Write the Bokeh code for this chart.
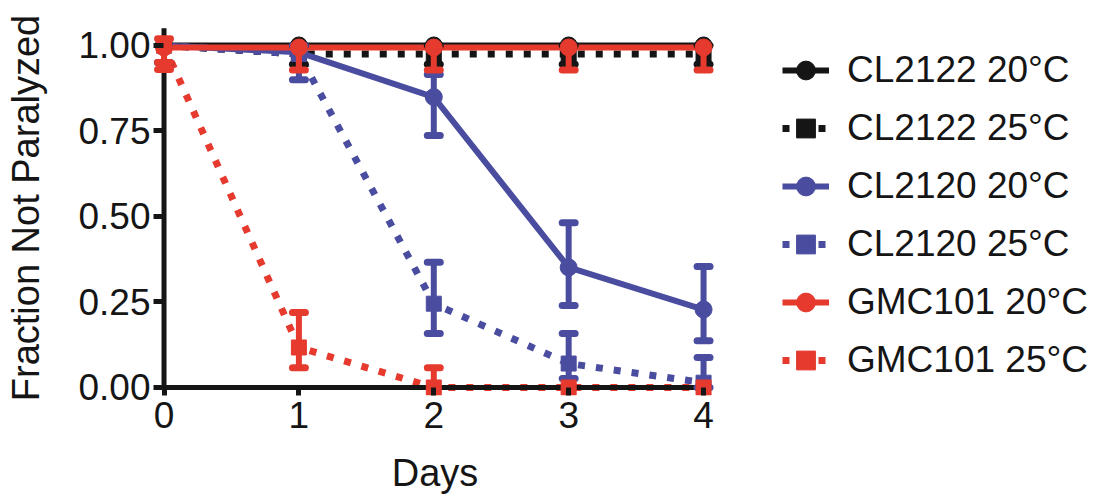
import numpy as np
from bokeh.plotting import figure
from bokeh.models import (ColumnDataSource, FixedTicker, Legend, LegendItem,
                          NumeralTickFormatter)
from bokeh.embed import file_html
from bokeh.resources import INLINE

# ---------------- data ----------------
days = [0, 1, 2, 3, 4]
x_ticks = [0, 1, 2, 3, 4]
y_ticks = [0.0, 0.25, 0.50, 0.75, 1.00]

names = ["CL2122 20°C", "CL2122 25°C", "CL2120 20°C",
         "CL2120 25°C", "GMC101 20°C", "GMC101 25°C"]

cl2122_20 = [1.000, 1.000, 1.000, 1.000, 1.000]
cl2122_20_lo = [1.000, 1.000, 1.000, 1.000, 1.000]
cl2122_20_hi = [1.000, 1.000, 1.000, 1.000, 1.000]

cl2122_25 = [1.000, 0.975, 0.975, 0.975, 0.975]
cl2122_25_lo = [0.950, 0.945, 0.945, 0.945, 0.945]
cl2122_25_hi = [1.000, 1.000, 1.000, 1.000, 1.000]

cl2120_20 = [1.000, 0.980, 0.849, 0.351, 0.228]
cl2120_20_lo = [1.000, 0.980, 0.737, 0.240, 0.137]
cl2120_20_hi = [1.000, 0.980, 0.915, 0.482, 0.354]

cl2120_25 = [1.000, 0.975, 0.245, 0.070, 0.014]
cl2120_25_lo = [1.000, 0.900, 0.158, 0.026, 0.000]
cl2120_25_hi = [1.000, 1.000, 0.366, 0.158, 0.088]

gmc101_20 = [0.994, 0.994, 0.994, 0.994, 0.994]
gmc101_20_lo = [0.950, 0.928, 0.928, 0.928, 0.928]
gmc101_20_hi = [1.020, 0.994, 0.994, 0.994, 0.994]

gmc101_25 = [1.000, 0.117, 0.000, 0.000, 0.000]
gmc101_25_lo = [0.930, 0.058, 0.000, 0.000, 0.000]
gmc101_25_hi = [1.000, 0.219, 0.058, 0.000, 0.000]

# ---------------- style ----------------
BLACK = "#151515"
BLUE = "#4A4D9F"
RED = "#E63A2E"
FONT = "Liberation Sans"

series = [
    (names[0], cl2122_20, cl2122_20_lo, cl2122_20_hi, BLACK, "solid", "circle"),
    (names[1], cl2122_25, cl2122_25_lo, cl2122_25_hi, BLACK, "dotted", "square"),
    (names[2], cl2120_20, cl2120_20_lo, cl2120_20_hi, BLUE, "solid", "circle"),
    (names[3], cl2120_25, cl2120_25_lo, cl2120_25_hi, BLUE, "dotted", "square"),
    (names[4], gmc101_20, gmc101_20_lo, gmc101_20_hi, RED, "solid", "circle"),
    (names[5], gmc101_25, gmc101_25_lo, gmc101_25_hi, RED, "dotted", "square"),
]

p = figure(frame_width=563, frame_height=375,
           min_border_left=153, min_border_right=385,
           min_border_top=20, min_border_bottom=102,
           x_range=(-0.078, 4.096), y_range=(-0.0234, 1.073),
           output_backend="svg", toolbar_location=None,
           background_fill_color="white", border_fill_color="white")
p.outline_line_color = None
p.grid.visible = False

for ax in (p.xaxis[0], p.yaxis[0]):
    ax.axis_line_color = None
    ax.major_tick_line_width = 5
    ax.major_tick_line_color = BLACK
    ax.minor_tick_line_color = None
    ax.major_tick_out = 0
    ax.major_label_text_font = FONT
    ax.major_label_text_font_size = "37px"
    ax.major_label_text_color = BLACK
    ax.axis_label_text_font = FONT
    ax.axis_label_text_font_size = "38px"
    ax.axis_label_text_font_style = "normal"
    ax.axis_label_text_color = BLACK

p.xaxis.ticker = FixedTicker(ticks=x_ticks)
p.xaxis.major_tick_in = 8
p.xaxis.major_label_standoff = 6
p.xaxis.axis_label = "Days"
p.xaxis.axis_label_standoff = 21

p.yaxis.ticker = FixedTicker(ticks=y_ticks)
p.yaxis.formatter = NumeralTickFormatter(format="0.00")
p.yaxis.major_tick_in = 10
p.yaxis.major_label_standoff = 3
p.yaxis.axis_label = "Fraction Not Paralyzed"
p.yaxis.axis_label_standoff = 28

cap = 0.048
items = []
marker_calls = []
for name, val, lo, hi, color, dash, marker in series:
    d = np.array(days, dtype=float)
    v = np.array(val)
    l = np.array(lo)
    h = np.array(hi)
    src = ColumnDataSource(dict(x=d, y=v))
    if dash == "solid":
        ln = p.line("x", "y", source=src, line_color=color, line_width=6,
                    level="underlay")
        size = 17
    else:
        ln = p.line("x", "y", source=src, line_color=color, line_width=7,
                    line_dash="7 11", level="underlay")
        size = 15
    marker_calls.append((name, ln, src, d, v, l, h, color, marker, size))

# axis lines through the origin (above the connecting lines, below markers)
p.segment(x0=[-0.018], y0=[0.0], x1=[4.06], y1=[0.0], line_color=BLACK,
          line_width=5, level="underlay")
p.segment(x0=[0.0], y0=[-0.007], x1=[0.0], y1=[1.05], line_color=BLACK,
          line_width=5, level="underlay")

for name, ln, src, d, v, l, h, color, marker, size in marker_calls:
    m = h > l
    p.segment(x0=d[m], y0=l[m], x1=d[m], y1=h[m], line_color=color,
              line_width=6)
    caps_y = np.concatenate([l[l < v], h[h > v]])
    caps_x = np.concatenate([d[l < v], d[h > v]])
    p.segment(x0=caps_x - cap, y0=caps_y, x1=caps_x + cap, y1=caps_y,
              line_color=color, line_width=7, line_cap="round")
    sc = p.scatter("x", "y", source=src, marker=marker, size=size,
                   fill_color=color, line_color=color)
    items.append(LegendItem(label=name, renderers=[ln, sc]))

legend = Legend(items=items, location=(66, 6), orientation="vertical",
                glyph_width=47, glyph_height=58, label_height=58,
                spacing=0, padding=0, margin=0, label_standoff=18,
                label_text_font=FONT, label_text_font_size="37px",
                label_text_color=BLACK, border_line_alpha=0,
                background_fill_alpha=0)
p.add_layout(legend, "right")

open("out.html", "w").write(file_html(p, INLINE))
